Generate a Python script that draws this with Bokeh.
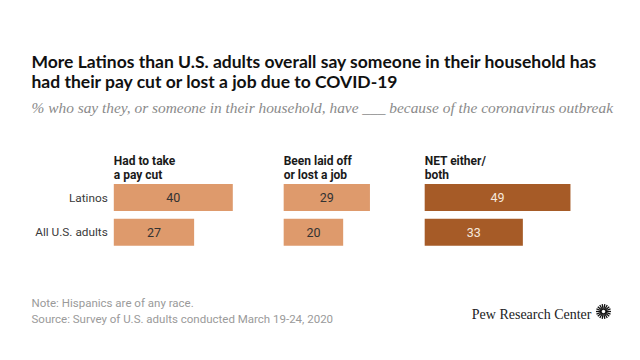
import numpy as np
from bokeh.plotting import figure
from bokeh.models import Range1d, Label
from bokeh.core.properties import value
from bokeh.embed import file_html
from bokeh.resources import INLINE

# ---- data ----
groups = ["Latinos", "All U.S. adults"]
pay_cut = [40, 27]
laid_off = [29, 20]
net_either = [49, 33]
header_line1 = ["Had to take", "Been laid off", "NET either/"]
header_line2 = ["a pay cut", "or lost a job", "both"]
title_lines = ["More Latinos than U.S. adults overall say someone in their household has",
               "had their pay cut or lost a job due to COVID-19"]
subtitle = "% who say they, or someone in their household, have ___ because of the coronavirus outbreak"
note = "Note: Hispanics are of any race."
source = "Source: Survey of U.S. adults conducted March 19-24, 2020"
brand = "Pew Research Center"

# ---- layout constants ----
W, H = 624, 344
PX_PER_UNIT = 2.975
ROW_PX = 34.8
X0_PX = 113.3
Y0_PX = 197.0
col_offsets = [0.0, 57.1, 104.5]
col_colors = ["#DE9A6C", "#DE9A6C", "#A65B27"]
val_colors = ["#333333", "#333333", "#F7E9DD"]
LIGHT_FONT = "Roboto"

p = figure(width=W, height=H, output_backend="svg", toolbar_location=None,
           x_range=Range1d(-X0_PX / PX_PER_UNIT, (W - X0_PX) / PX_PER_UNIT),
           y_range=Range1d((H - Y0_PX) / ROW_PX, -Y0_PX / ROW_PX),
           x_axis_location=None, y_axis_location=None,
           min_border=0, min_border_left=0, min_border_right=0,
           min_border_top=0, min_border_bottom=0)
p.grid.visible = False
p.outline_line_color = None
p.background_fill_color = "white"
p.border_fill_color = "white"

rows = list(range(len(groups)))
series = [pay_cut, laid_off, net_either]
for off, vals, col, vcol in zip(col_offsets, series, col_colors, val_colors):
    p.hbar(y=rows, left=off, right=[off + v for v in vals], height=27 / ROW_PX,
           fill_color=col, line_color=None)
    p.text(x=[off + v / 2 for v in vals], y=rows, text=[str(v) for v in vals],
           text_align="center", text_baseline="middle", text_color=vcol,
           text_font=value(LIGHT_FONT), text_font_size="12.5px")

# column headers
h1_y = (160.7 - Y0_PX) / ROW_PX
h2_y = (174.3 - Y0_PX) / ROW_PX
p.text(x=col_offsets, y=[h1_y] * 3, text=header_line1, text_align="left",
       text_baseline="alphabetic", text_color="#1a1a1a", text_font=value(LIGHT_FONT),
       text_font_style="bold", text_font_size="12px")
p.text(x=col_offsets, y=[h2_y] * 3, text=header_line2, text_align="left",
       text_baseline="alphabetic", text_color="#1a1a1a", text_font=value(LIGHT_FONT),
       text_font_style="bold", text_font_size="12px")

# row labels
p.text(x=[0] * len(groups), y=rows, text=groups, x_offset=-6, text_align="right",
       text_baseline="middle", text_color="#3a3a3a", text_font=value(LIGHT_FONT),
       text_font_size="11.8px")

def add_label(text, x, y_top, size, color, font, style="normal", align="left"):
    p.add_layout(Label(x=x, y=H - y_top, x_units="screen", y_units="screen", text=text,
                       text_align=align, text_baseline="alphabetic", text_color=color,
                       text_font=font, text_font_size=size, text_font_style=style))

add_label(title_lines[0], 31, 61, "17.5px", "#111111", "Lato", "bold")
add_label(title_lines[1], 31, 81, "17.5px", "#111111", "Lato", "bold")
add_label(subtitle, 31, 106.7, "15.4px", "#8a8a8a", "Liberation Serif", "italic")
add_label(note, 31, 302.3, "11.5px", "#9a9a9a", LIGHT_FONT)
add_label(source, 31, 318.3, "11.5px", "#9a9a9a", LIGHT_FONT)
add_label(brand, 591, 314, "14px", "#222222", "Liberation Serif", align="right")

# logo sunburst
cx = (603 - X0_PX) / PX_PER_UNIT
cy = (311 - Y0_PX) / ROW_PX
angles = np.linspace(0, 2 * np.pi, 18, endpoint=False)
p.ray(x=cx, y=cy, length=7.5, length_units="screen", angle=angles,
      line_width=1.3, line_color="#111111")
p.scatter(x=[cx], y=[cy], size=3.5, fill_color="white", line_color=None)

open("out.html", "w").write(file_html(p, INLINE))
